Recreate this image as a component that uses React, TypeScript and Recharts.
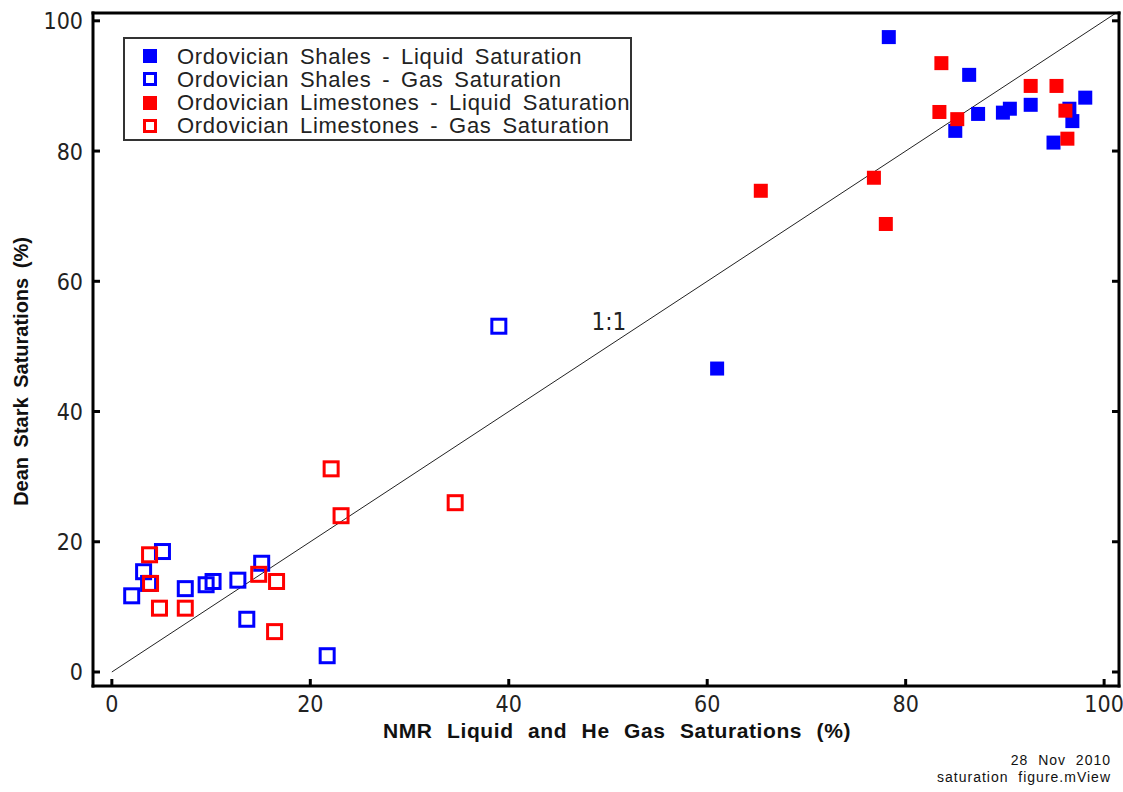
import { ScatterChart, Scatter, XAxis, YAxis, ReferenceLine, ReferenceDot, Legend, Label } from 'recharts'

const xTicks = [0, 20, 40, 60, 80, 100]
const yTicks = [0, 20, 40, 60, 80, 100]

// NMR liquid / He gas saturation (%) vs Dean Stark saturation (%)
const shaleLiquidNmr = [78.3, 86.4, 85.0, 87.3, 89.8, 90.5, 92.6, 94.9, 96.5, 96.8, 98.1, 61.0]
const shaleLiquidDs = [97.5, 91.7, 83.1, 85.7, 85.9, 86.5, 87.1, 81.3, 86.5, 84.6, 88.2, 46.6]

const shaleGasNmr = [5.1, 3.2, 3.7, 2.0, 7.4, 9.5, 10.2, 12.7, 15.1, 13.6, 21.7, 39.0]
const shaleGasDs = [18.5, 15.4, 13.6, 11.7, 12.8, 13.4, 13.9, 14.1, 16.7, 8.1, 2.5, 53.1]

const limeLiquidNmr = [65.4, 76.8, 78.0, 83.6, 83.4, 85.2, 92.6, 95.2, 96.1, 96.3]
const limeLiquidDs = [73.9, 75.9, 68.8, 93.5, 86.0, 84.9, 90.0, 90.0, 86.2, 81.9]

const limeGasNmr = [3.8, 3.9, 4.8, 7.4, 14.8, 16.6, 16.4, 22.1, 23.1, 34.6]
const limeGasDs = [18.0, 13.6, 9.8, 9.8, 15.0, 13.9, 6.2, 31.2, 24.0, 26.0]

const toPoints = (xs: number[], ys: number[]) => xs.map((x, i) => ({ x, y: ys[i] }))

const series = [
  { name: 'Ordovician Shales - Liquid Saturation', color: '#0000ff', filled: true, data: toPoints(shaleLiquidNmr, shaleLiquidDs) },
  { name: 'Ordovician Shales - Gas Saturation', color: '#0000ff', filled: false, data: toPoints(shaleGasNmr, shaleGasDs) },
  { name: 'Ordovician Limestones - Liquid Saturation', color: '#ff0000', filled: true, data: toPoints(limeLiquidNmr, limeLiquidDs) },
  { name: 'Ordovician Limestones - Gas Saturation', color: '#ff0000', filled: false, data: toPoints(limeGasNmr, limeGasDs) },
]

const xDomain = [-1.9, 101.5]
const yDomain = [-2.15, 101.2]

const tickFont = '"Liberation Sans Narrow", "DejaVu Sans Condensed", sans-serif'
const textFont = '"Liberation Sans", Arial, sans-serif'
const TICK_LEN = 7

const squareShape = (color: string, filled: boolean) => (props: any) => {
  const { cx, cy } = props
  if (cx == null || cy == null) return <g />
  const size = 14
  return (
    <rect
      x={cx - size / 2}
      y={cy - size / 2}
      width={size}
      height={size}
      fill={filled ? color : 'none'}
      stroke={filled ? 'none' : color}
      strokeWidth={3}
    />
  )
}

const BottomTick = ({ x, y, payload }: any) => (
  <g>
    <line x1={x} y1={y} x2={x} y2={y - TICK_LEN} stroke="#000" strokeWidth={3} />
    <text x={x} y={y + 26} textAnchor="middle" fontSize={23} fontFamily={tickFont} fill="#222">
      {payload.value}
    </text>
  </g>
)

const LeftTick = ({ x, y, payload }: any) => (
  <g>
    <line x1={x} y1={y} x2={x + TICK_LEN} y2={y} stroke="#000" strokeWidth={3} />
    <text x={x - 10} y={y + 8.5} textAnchor="end" fontSize={23} fontFamily={tickFont} fill="#222">
      {payload.value}
    </text>
  </g>
)

const TopTick = ({ x, y }: any) => <line x1={x} y1={y} x2={x} y2={y + TICK_LEN} stroke="#000" strokeWidth={3} />

const RightTick = ({ x, y }: any) => <line x1={x} y1={y} x2={x - TICK_LEN} y2={y} stroke="#000" strokeWidth={3} />

const LegendBox = () => (
  <div
    style={{
      position: 'relative',
      width: 505,
      height: 100,
      border: '2px solid #333',
      background: '#fff',
      fontFamily: textFont,
      fontSize: 22,
      color: '#222',
    }}
  >
    {series.map((s, i) => (
      <div key={s.name} style={{ position: 'absolute', left: 0, top: 5.5 + i * 23.3, height: 23.3, width: '100%' }}>
        <svg width={20} height={20} style={{ position: 'absolute', left: 15, top: 1.7 }}>
          {s.filled ? (
            <rect x={3} y={3} width={14} height={14} fill={s.color} />
          ) : (
            <rect x={4.5} y={4.5} width={11} height={11} fill="none" stroke={s.color} strokeWidth={3} />
          )}
        </svg>
        <span
          style={{
            position: 'absolute',
            left: 52,
            top: 0,
            lineHeight: '23.3px',
            letterSpacing: 0.7,
            wordSpacing: 4,
            whiteSpace: 'nowrap',
          }}
        >
          {s.name}
        </span>
      </div>
    ))}
  </div>
)

const axisLine = { stroke: '#000', strokeWidth: 3, strokeLinecap: 'square' as const }

export default function App() {
  return (
    <div style={{ position: 'absolute', left: 0, top: 0, width: 1123, height: 792, background: '#fff' }}>
      <ScatterChart width={1123} height={792} margin={{ top: 12, right: 3, bottom: 66, left: 53 }}>
        <XAxis
          type="number"
          dataKey="x"
          domain={xDomain}
          ticks={xTicks}
          allowDataOverflow
          height={40}
          tickSize={0}
          tickMargin={0}
          tickLine={false}
          axisLine={axisLine}
          tick={<BottomTick />}
        >
          <Label
            value="NMR Liquid and He Gas Saturations (%)"
            position="bottom"
            offset={-3}
            dx={11}
            style={{ fontFamily: textFont, fontSize: 21, fontWeight: 'bold', letterSpacing: 0.6, wordSpacing: 8, fill: '#111' }}
          />
        </XAxis>
        <XAxis
          xAxisId="top"
          orientation="top"
          type="number"
          domain={xDomain}
          ticks={xTicks}
          allowDataOverflow
          height={1}
          tickSize={0}
          tickMargin={0}
          tickLine={false}
          axisLine={axisLine}
          tick={<TopTick />}
        />
        <YAxis
          type="number"
          dataKey="y"
          domain={yDomain}
          ticks={yTicks}
          allowDataOverflow
          width={40}
          tickSize={0}
          tickMargin={0}
          tickLine={false}
          axisLine={axisLine}
          tick={<LeftTick />}
        >
          <Label
            content={({ viewBox }: any) => (
              <text
                transform={`translate(${viewBox.x + viewBox.width - 65}, ${viewBox.y + viewBox.height / 2 + 22}) rotate(-90)`}
                textAnchor="middle"
                fontFamily={textFont}
                fontSize={20}
                fontWeight="bold"
                wordSpacing={4}
                fill="#111"
              >
                Dean Stark Saturations (%)
              </text>
            )}
          />
        </YAxis>
        <YAxis
          yAxisId="right"
          orientation="right"
          type="number"
          domain={yDomain}
          ticks={yTicks}
          allowDataOverflow
          width={1}
          tickSize={0}
          tickMargin={0}
          tickLine={false}
          axisLine={axisLine}
          tick={<RightTick />}
        />
        <ReferenceLine
          segment={[
            { x: 0, y: 0 },
            { x: 101.2, y: 101.2 },
          ]}
          stroke="#222"
          strokeWidth={1}
        />
        <ReferenceDot
          x={50.1}
          y={53.9}
          r={1}
          fill="none"
          stroke="none"
          label={{ value: '1:1', position: 'center', fontSize: 24, fontFamily: tickFont, fill: '#222' }}
        />
        {series.map((s) => (
          <Scatter
            key={s.name}
            name={s.name}
            data={s.data}
            fill={s.color}
            shape={squareShape(s.color, s.filled)}
            isAnimationActive={false}
          />
        ))}
        <Legend
          layout="vertical"
          align="center"
          verticalAlign="middle"
          content={() => <LegendBox />}
          wrapperStyle={{ left: 123, top: 37, width: 509, height: 104 }}
        />
      </ScatterChart>
      <div
        style={{
          position: 'absolute',
          right: 12,
          top: 752,
          textAlign: 'right',
          fontFamily: textFont,
          fontSize: 14,
          lineHeight: '17px',
          letterSpacing: 1,
          color: '#111',
          whiteSpace: 'pre',
        }}
      >
        {'28  Nov  2010\nsaturation  figure.mView'}
      </div>
    </div>
  )
}
